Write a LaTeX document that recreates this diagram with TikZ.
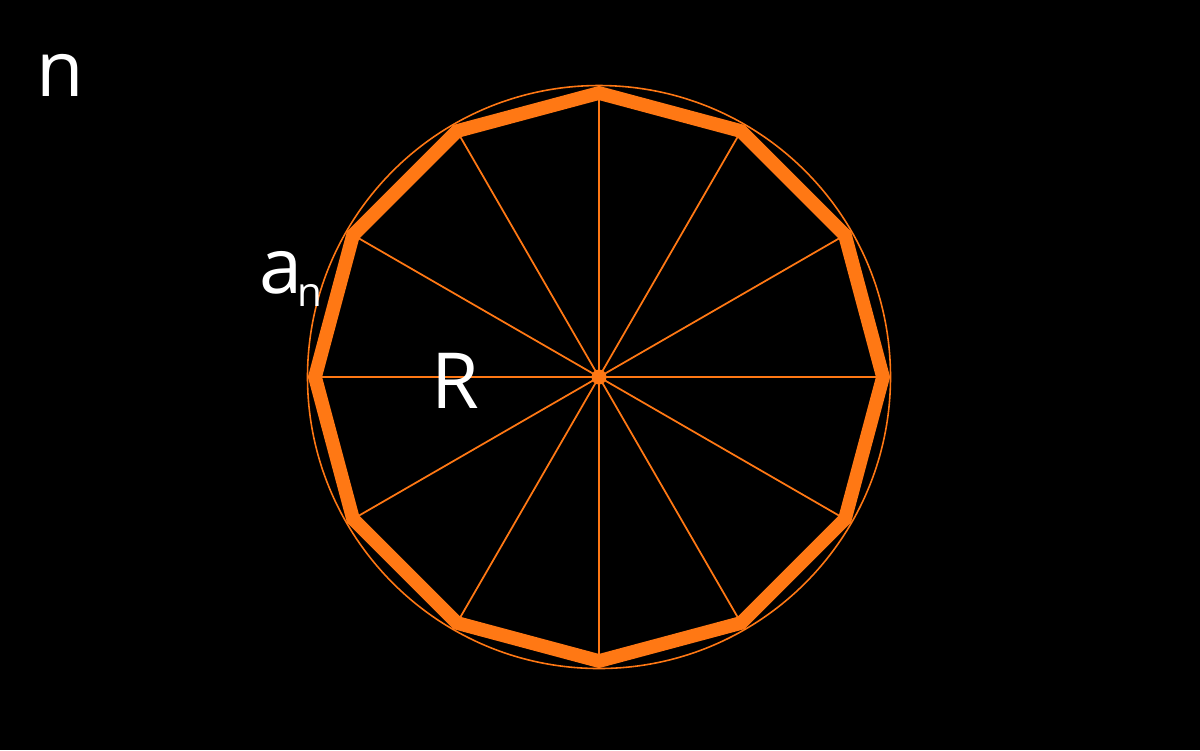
\documentclass[tikz,border=0pt]{standalone}
\usepackage{fontspec}
\setmainfont{Open Sans}
\usetikzlibrary{calc}
\definecolor{polyorange}{RGB}{255,120,20}
\tikzset{
  rim/.style={draw=polyorange, line width=0.45pt},
  spoke/.style={draw=polyorange, line width=0.5pt},
  edge/.style={draw=polyorange, line width=3.9pt, line join=miter},
  letter/.style={text=white, inner sep=0pt, anchor=base west, font=\fontsize{22}{26}\selectfont},
  subletter/.style={text=white, inner sep=0pt, anchor=base west, font=\fontsize{11.5}{14}\selectfont}
}
\begin{document}
\begin{tikzpicture}[x=0.01cm, y=-0.01cm]
  % Background and frame.
  \fill[black] (0,0) rectangle (1200,750);

  % Centre point and the circumcircle.
  \coordinate (centre) at (599,377);
  \draw[rim] (centre) circle[radius=291.5];

  % Vertices of the regular 12-gon.
  \foreach \i in {0,...,11}
    \coordinate (v\i) at ($(centre)+({\i*30}:284 and -284)$);

  % Spokes from the centre to every vertex.
  \foreach \i in {0,...,11}
    \draw[spoke] (centre) -- (v\i);

  % Thick polygon outline.
  \draw[edge] (v0) -- (v1) -- (v2) -- (v3) -- (v4) -- (v5) -- (v6)
    -- (v7) -- (v8) -- (v9) -- (v10) -- (v11) -- cycle;
  \fill[polyorange] (centre) circle[radius=7.5];

  % Labels.
  \node[letter] (nlabel) at (36,96) {n};
  \node[letter] (alabel) at (259,293) {a};
  \node[subletter] (asub) at (297,306) {n};
  \node[letter] (rlabel) at (431,408) {R};
\end{tikzpicture}
\end{document}
